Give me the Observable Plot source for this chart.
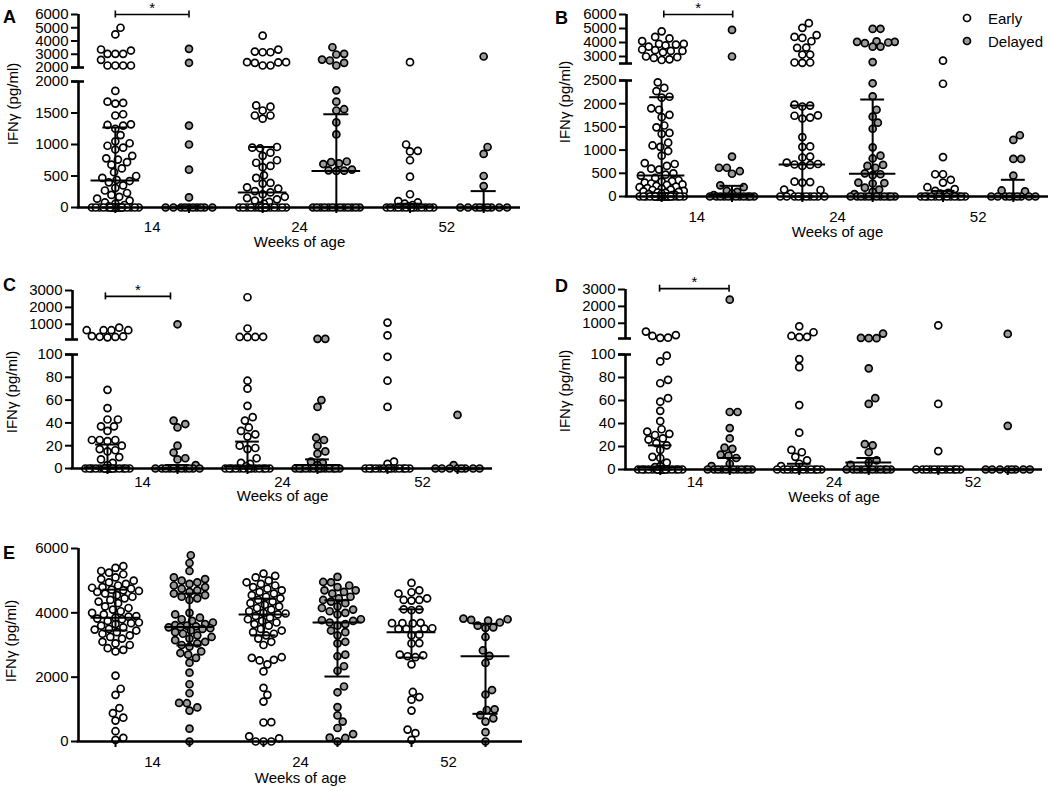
<!DOCTYPE html>
<html><head><meta charset="utf-8">
<script src="https://cdn.jsdelivr.net/npm/d3@7"></script>
<script src="https://cdn.jsdelivr.net/npm/@observablehq/plot@0.6"></script>
<style>
body{margin:0;background:#fff;font-family:"Liberation Sans",Arial,sans-serif;}
#fig{position:relative;width:1050px;height:791px;overflow:hidden;background:#fff;}
</style></head><body><div id="fig"></div>
<script>
// ---------- categories / tick labels ----------
const weeks = ["14", "24", "52"];
const groups = ["Early", "Delayed"];
const xTitle = "Weeks of age";
const yTitle = "IFNγ (pg/ml)";
const A_ticks_upper = [2000, 3000, 4000, 5000, 6000];
const A_ticks_lower = [0, 500, 1000, 1500, 2000];
const B_ticks_upper = [3000, 4000, 5000, 6000];
const B_ticks_lower = [0, 500, 1000, 1500, 2000, 2500];
const CD_ticks_upper = [1000, 2000, 3000];
const CD_ticks_lower = [0, 20, 40, 60, 80, 100];
const E_ticks = [0, 2000, 4000, 6000];

// ---------- Panel A ----------
const A_early_14 = [5000, 4500, 3360, 3280, 3030, 3030, 3030, 2580, 2150, 2150, 2150, 2150,
  1850, 1680, 1660, 1650, 1480, 1460, 1320, 1310, 1300, 1250, 1150, 1050, 1020, 980, 950, 920, 820, 780,
  760, 720, 680, 620, 560, 500, 470, 440, 420, 400, 350, 310, 270, 230, 200, 170, 140, 110, 80, 60, 40, 20,
  0,0,0,0,0, 0,0,0,0,0, 0,0,0,0,0, 0,0,0,0,0];
const A_delayed_14 = [3410, 2355, 1300, 1000, 600, 160, 0,0,0,0,0, 0,0,0,0,0];
const A_early_24 = [4400, 3350, 3200, 3150, 3150, 2400, 2400, 2380, 2350, 2150, 2150,
  1620, 1600, 1540, 1460, 1460, 1410, 960, 950, 940, 870, 820, 750, 710, 660, 640, 510, 470, 390, 380,
  320, 300, 260, 240, 210, 170, 150, 130, 110, 90, 60, 30,
  0,0,0,0,0, 0,0,0,0,0, 0,0,0,0,0, 0];
const A_delayed_24 = [3530, 3030, 2980, 2600, 2530, 2350, 2150, 1860, 1680, 1560, 1540, 1350, 1160,
  730, 720, 700, 690, 600, 590, 585, 580, 0,0,0,0,0, 0,0,0,0,0, 0,0,0];
const A_early_52 = [2400, 1000, 900, 890, 750, 490, 210, 100, 80, 60, 40, 20, 0,0,0,0,0, 0,0,0,0,0, 0,0,0,0];
const A_delayed_52 = [2830, 960, 850, 500, 340, 0,0,0,0,0, 0,0,0,0];
const A_median = [430, 0, 240, 580, 20, 0];
const A_q1 = [0, 0, 0, 0, 0, 0];
const A_q3 = [1270, 20, 960, 1480, 60, 260];

// ---------- Panel B ----------
const B_early_14 = [4800, 4400, 4300, 4100, 3900, 3900, 3850, 3800, 3700, 3500, 3450, 3400, 3400, 3300, 3000, 2950, 2900, 2800, 2750,
  2460, 2340, 2270, 2150, 2130, 1900, 1870, 1760, 1710, 1530, 1490, 1370, 1350, 1160, 1100, 1070, 980, 880,
  720, 700, 660, 600, 580, 500, 470, 450, 400, 350, 330, 320, 300, 280, 260, 250, 230, 210, 200, 180, 170,
  150, 140, 120, 110, 100, 90, 80, 60, 50, 40, 30, 20,
  0,0,0,0,0, 0,0,0,0,0, 0,0,0,0,0, 0,0,0,0,0, 0,0];
const B_delayed_14 = [4900, 3000, 860, 620, 620, 545, 490, 240, 200, 120, 100, 60, 30, 0,0,0,0,0, 0,0,0,0,0, 0,0];
const B_early_24 = [5380, 5050, 4530, 4400, 4330, 4090, 3640, 3620, 3140, 3140, 2570, 2570, 2550,
  1980, 1960, 1940, 1750, 1740, 1700, 1680, 1280, 1080, 1070, 860, 840, 730, 700, 690, 680, 660,
  320, 310, 300, 150, 140, 60, 0,0,0,0,0, 0,0,0,0,0];
const B_delayed_24 = [4980, 4970, 4080, 4050, 4050, 4000, 3950, 3710, 3700, 2600,
  2440, 2160, 1870, 1720, 1590, 1460, 1060, 880, 820, 680, 660, 620, 500, 480, 460, 300, 290, 280,
  190, 150, 100, 50, 0,0,0,0,0, 0,0,0,0,0, 0,0];
const B_early_52 = [2700, 2430, 850, 480, 480, 360, 300, 200, 160, 120, 80, 60, 40, 0,0,0,0,0, 0,0,0,0,0, 0,0,0];
const B_delayed_52 = [1320, 1220, 810, 810, 450, 130, 110, 0,0,0,0,0, 0,0,0,0];
const B_median = [450, 40, 690, 490, 20, 0];
const B_q1 = [0, 0, 0, 0, 0, 0];
const B_q3 = [2140, 230, 1960, 2090, 120, 360];

// ---------- Panel C ----------
const C_early_14 = [800, 650, 650, 650, 650, 300, 280, 260, 250, 230,
  69, 53, 43, 43, 37, 37, 33, 25, 25, 25, 24, 20, 17, 16, 15, 10, 8, 5, 3,
  0,0,0,0,0, 0,0,0,0,0, 0,0,0,0,0, 0,0,0];
const C_delayed_14 = [1000, 42, 39, 36, 20, 14, 9, 8, 3, 0,0,0,0,0, 0,0,0,0,0, 0];
const C_early_24 = [2600, 750, 260, 250, 250, 240, 77, 70, 55, 45, 42, 36, 33, 30, 28, 20, 18, 17, 9, 5, 4, 2,
  0,0,0,0,0, 0,0,0,0,0, 0,0,0,0];
const C_delayed_24 = [140, 140, 60, 54, 27, 25, 20, 15, 13, 6, 5, 3, 0,0,0,0,0, 0,0,0,0,0, 0,0,0,0];
const C_early_52 = [1100, 340, 98, 77, 54, 6, 4, 0,0,0,0,0, 0,0,0,0,0, 0,0,0,0];
const C_delayed_52 = [47, 3, 0,0,0,0,0, 0,0,0];
const C_median = [1, 0, 2, 3, 0, 0];
const C_q1 = [0, 0, 0, 0, 0, 0];
const C_q3 = [21, 3, 23.6, 8, 1, 0];

// ---------- Panel D ----------
const D_early_14 = [510, 300, 250, 150, 140, 99, 94, 78, 75, 62, 59, 51, 42, 35, 33, 31, 30, 27, 26, 23, 21, 17, 11, 10, 6, 3, 2,
  0,0,0,0,0, 0,0,0,0,0, 0,0,0,0,0, 0,0,0];
const D_delayed_14 = [2400, 50, 50, 36, 27, 19, 18, 13, 12, 10, 5, 3, 0,0,0,0,0, 0,0,0,0,0, 0,0];
const D_early_24 = [820, 470, 250, 200, 180, 96, 89, 56, 32, 17, 15, 11, 8, 5, 3, 0,0,0,0,0, 0,0,0,0,0, 0,0];
const D_delayed_24 = [390, 140, 120, 120, 88, 62, 57, 22, 21, 15, 8, 6, 4, 0,0,0,0,0, 0,0,0,0,0, 0,0];
const D_early_52 = [880, 57, 16, 0,0,0,0,0, 0,0,0,0,0, 0,0];
const D_delayed_52 = [370, 38, 0,0,0,0,0, 0,0,0];
const D_median = [2, 0, 0, 6, 0, 0];
const D_q1 = [0, 0, 0, 0, 0, 0];
const D_q3 = [21, 10, 5, 10, 0, 0];

// ---------- Panel E ----------
const E_early_14 = [5450, 5400, 5300, 5250, 5200, 5100, 5050, 5000, 4950, 4900, 4850, 4800, 4780, 4750, 4720, 4700,
  4680, 4650, 4600, 4550, 4500, 4450, 4400, 4350, 4300, 4200, 4150, 4100, 4050, 4000, 3950, 3900, 3880, 3850,
  3820, 3800, 3750, 3700, 3680, 3650, 3600, 3550, 3500, 3480, 3450, 3400, 3350, 3300, 3250, 3200, 3100, 3050,
  3000, 2900, 2850, 2800, 2050, 1640, 1450, 1040, 880, 740, 650, 320, 115, 50];
const E_delayed_14 = [5790, 5550, 5300, 5100, 5050, 5000, 4950, 4900, 4850, 4800, 4750, 4700, 4650, 4600, 4550, 4500,
  4450, 4400, 4000, 3950, 3850, 3800, 3750, 3700, 3650, 3620, 3600, 3580, 3560, 3550, 3520, 3500, 3450, 3400,
  3350, 3300, 3250, 3200, 3150, 3100, 3050, 3000, 2950, 2800, 2750, 2700, 2600, 2450, 2140, 1780, 1500, 1200,
  1190, 1060, 960, 400, 0];
const E_early_24 = [5220, 5150, 5100, 5000, 4950, 4900, 4850, 4800, 4750, 4700, 4650, 4600, 4550, 4500, 4450, 4400,
  4350, 4300, 4250, 4200, 4150, 4100, 4050, 4000, 3980, 3950, 3900, 3850, 3800, 3750, 3700, 3650, 3600, 3500,
  3450, 3400, 3350, 3300, 3200, 3100, 3000, 2620, 2600, 2540, 2520, 2400, 2180, 1670, 1450, 1240, 600, 590,
  160, 100, 0, 0, 0];
const E_delayed_24 = [5120, 4960, 4950, 4850, 4800, 4700, 4700, 4650, 4600, 4500, 4450, 4400, 4350, 4300, 4200, 4150,
  4100, 4050, 4000, 3950, 3800, 3770, 3750, 3700, 3650, 3600, 3450, 3400, 3300, 3100, 3050, 2700, 2650, 2340,
  2200, 1710, 1530, 1070, 810, 620, 420, 230, 120, 110, 0];
const E_early_52 = [4930, 4700, 4640, 4600, 4450, 4400, 4400, 4380, 4110, 4100, 4080, 3690, 3680, 3680, 3670, 3520,
  3510, 3500, 3500, 3320, 3300, 3060, 3050, 2700, 2680, 2650, 2620, 2400, 1540, 1380, 1300, 960, 370, 260, 50];
const E_delayed_52 = [3820, 3800, 3780, 3760, 3700, 3600, 3550, 3530, 3250, 2830, 2660, 2440, 1600, 1460, 1000, 980,
  820, 720, 620, 290, 0];
const E_median = [3850, 3560, 3950, 3700, 3400, 2650];
const E_q1 = [3450, 2990, 3300, 2020, 2610, 860];
const E_q3 = [4720, 4600, 4440, 4390, 4110, 3660];

// ---------- drawing ----------
const R = 3.5, GRAY = "#9c9c9c", FONT = '"Liberation Sans", Arial, sans-serif';
const fig = document.getElementById("fig");

// beeswarm offsets (pixels) for one group within one axis segment
function swarm(values, py, maxHalf) {
  const order = values.map((_, i) => i).sort((a, b) => values[a] - values[b]);
  const placed = [], out = new Array(values.length);
  const step = 1.3, cands = [0];
  for (let k = 1; k * step <= maxHalf; k++) cands.push(k * step, -k * step);
  const minD = 2 * R + 0.8;
  for (const i of order) {
    const y = py(values[i]);
    let best = 0, bestD = -1;
    for (const c of cands) {
      let md = Infinity;
      for (const q of placed) { const d = Math.hypot(q.x - c, q.y - y); if (d < md) md = d; }
      if (md >= minD) { best = c; bestD = md; break; }
      if (md > bestD + 0.3) { bestD = md; best = c; }
    }
    placed.push({x: best, y});
    out[i] = best;
  }
  return out;
}

function drawPanel(p) {
  const band = (p.right - p.left) / 6;
  const stats = p.median.map((m, i) => ({c: i + 0.5, med: m, q1: p.q1[i], q3: p.q3[i]}));
  p.segments.forEach((seg, si) => {
    const isBottom = si === p.segments.length - 1;
    const isTop = si === 0 && p.segments.length > 1;
    const [d0, d1] = seg.domain;
    const H = seg.bottom - seg.top;
    const mt = 16, mb = isBottom ? 52 : 8;
    const width = Math.min(1050, p.right + 6);
    const py = v => seg.bottom - (v - d0) / (d1 - d0) * H;
    const keep = isTop ? (v => v > d0) : (v => v <= d1);
    const early = [], delayed = [];
    p.series.forEach((vals, gi) => {
      const sub = vals.filter(keep);
      const offs = swarm(sub, py, 0.32 * band);
      sub.forEach((v, k) => (gi % 2 ? delayed : early).push({x: gi + 0.5 + offs[k] / band, v}));
    });
    const marks = [
      Plot.dot(early, {x: "x", y: "v", r: R, fill: "white", stroke: "black", strokeWidth: 1.7}),
      Plot.dot(delayed, {x: "x", y: "v", r: R, fill: GRAY, stroke: "black", strokeWidth: 1.7}),
      Plot.ruleX([0], {x: d => d, y1: () => d0, y2: () => d1, stroke: "black", strokeWidth: 2.6}),
      Plot.ruleY(seg.ticks, {y: d => d, x1: () => 0, x2: () => 0, insetLeft: -7, stroke: "black", strokeWidth: 2}),
      Plot.text(seg.ticks, {x: () => 0, y: d => d, text: d => String(d), textAnchor: "end", dx: -10, fontSize: 15, fill: "black"})
    ];
    if (seg.brk != null) {
      marks.push(Plot.ruleY([seg.brk], {y: d => d, x1: () => 0, x2: () => 0, insetLeft: -7, insetRight: -6, stroke: "black", strokeWidth: 2.6}));
    }
    if (isBottom) {
      marks.push(
        Plot.ruleY([0], {y: d => d, x1: () => 0, x2: () => 6, insetLeft: -1.3, stroke: "black", strokeWidth: 2.6}),
        Plot.ruleX(stats, {x: "c", y1: () => 0, y2: () => 0, insetBottom: -6, stroke: "black", strokeWidth: 2}),
        Plot.ruleX(stats, {x: "c", y1: "q1", y2: "q3", stroke: "black", strokeWidth: 2}),
        Plot.ruleY(stats, {y: "med", x1: d => d.c - 0.33, x2: d => d.c + 0.33, stroke: "black", strokeWidth: 2}),
        Plot.ruleY(stats, {y: "q1", x1: d => d.c - 0.17, x2: d => d.c + 0.17, stroke: "black", strokeWidth: 2}),
        Plot.ruleY(stats, {y: "q3", x1: d => d.c - 0.17, x2: d => d.c + 0.17, stroke: "black", strokeWidth: 2}),
        Plot.text(weeks, {x: (d, i) => 1 + 2 * i, y: () => 0, dy: p.labDy, fontSize: 15, fill: "black"}),
        Plot.text([xTitle], {frameAnchor: "bottom", dy: p.titleDy, fontSize: 15, fill: "black"})
      );
    }
    if (seg.bracket) {
      const b = seg.bracket;
      marks.push(
        Plot.ruleY([b], {y: d => d.y, x1: d => d.x1, x2: d => d.x2, stroke: "black", strokeWidth: 1.6}),
        Plot.ruleX([b.x1, b.x2], {x: d => d, y1: () => b.y, y2: () => b.y, insetTop: -3.5, insetBottom: -3.5, stroke: "black", strokeWidth: 1.6}),
        Plot.text([b], {x: d => (d.x1 + d.x2) / 2, y: d => d.y, text: () => "*", dy: -6, fontSize: 15, fill: "black"})
      );
    }
    const el = Plot.plot({
      width, height: H + mt + mb,
      marginLeft: p.left, marginRight: width - p.right, marginTop: mt, marginBottom: mb,
      x: {domain: [0, 6], axis: null},
      y: {domain: [d0, d1], axis: null},
      style: {background: "transparent", overflow: "visible", fontFamily: FONT, fontSize: "15px", color: "black"},
      marks
    });
    el.style.position = "absolute";
    el.style.left = "0px";
    el.style.top = (seg.top - mt) + "px";
    fig.appendChild(el);
  });
}

const panels = [
  {left: 78, right: 520, labDy: 20, titleDy: 39,
   series: [A_early_14, A_delayed_14, A_early_24, A_delayed_24, A_early_52, A_delayed_52],
   median: A_median, q1: A_q1, q3: A_q3,
   segments: [
     {domain: [2000, 6000], top: 14, bottom: 67, ticks: A_ticks_upper, brk: 2000, bracket: {x1: 0.5, x2: 1.5, y: 6000}},
     {domain: [0, 2000], top: 81, bottom: 207, ticks: A_ticks_lower, brk: 2000}]},
  {left: 626, right: 1048, labDy: 21, titleDy: 40,
   series: [B_early_14, B_delayed_14, B_early_24, B_delayed_24, B_early_52, B_delayed_52],
   median: B_median, q1: B_q1, q3: B_q3,
   segments: [
     {domain: [2500, 6000], top: 14, bottom: 63, ticks: B_ticks_upper, brk: 2500, bracket: {x1: 0.53, x2: 1.51, y: 6000}},
     {domain: [0, 2500], top: 80, bottom: 196, ticks: B_ticks_lower, brk: 2500}]},
  {left: 72, right: 492, labDy: 13.5, titleDy: 32.5,
   series: [C_early_14, C_delayed_14, C_early_24, C_delayed_24, C_early_52, C_delayed_52],
   median: C_median, q1: C_q1, q3: C_q3,
   segments: [
     {domain: [100, 3000], top: 290, bottom: 339, ticks: CD_ticks_upper, brk: 100, bracket: {x1: 0.47, x2: 1.4, y: 2650}},
     {domain: [0, 100], top: 354, bottom: 468, ticks: CD_ticks_lower, brk: 100}]},
  {left: 625, right: 1042, labDy: 13, titleDy: 32,
   series: [D_early_14, D_delayed_14, D_early_24, D_delayed_24, D_early_52, D_delayed_52],
   median: D_median, q1: D_q1, q3: D_q3,
   segments: [
     {domain: [100, 3000], top: 289, bottom: 338, ticks: CD_ticks_upper, brk: 100, bracket: {x1: 0.49, x2: 1.49, y: 3050}},
     {domain: [0, 100], top: 354, bottom: 469, ticks: CD_ticks_lower, brk: 100}]},
  {left: 78, right: 522, labDy: 21, titleDy: 41,
   series: [E_early_14, E_delayed_14, E_early_24, E_delayed_24, E_early_52, E_delayed_52],
   median: E_median, q1: E_q1, q3: E_q3,
   segments: [
     {domain: [0, 6000], top: 548, bottom: 741, ticks: E_ticks}]}
];
panels.forEach(drawPanel);

// ---------- overlay: panel letters, y titles, legend ----------
const NS = "http://www.w3.org/2000/svg";
const ov = document.createElementNS(NS, "svg");
ov.setAttribute("width", 1050); ov.setAttribute("height", 791);
ov.style.cssText = "position:absolute;left:0;top:0;pointer-events:none;font-family:" + FONT;
function addText(txt, x, y, attrs) {
  const t = document.createElementNS(NS, "text");
  t.setAttribute("x", x); t.setAttribute("y", y);
  for (const k in attrs) t.setAttribute(k, attrs[k]);
  t.textContent = txt; ov.appendChild(t); return t;
}
[["A", 3, 23], ["B", 555, 24], ["C", 3, 291], ["D", 555, 292], ["E", 3, 559]].forEach(([l, x, y]) =>
  addText(l, x, y, {"font-size": 18, "font-weight": "bold"}));
[[12, 104], [564, 102], [11, 392], [564, 391], [10, 641]].forEach(([x, y]) =>
  addText(yTitle, 0, 0, {"font-size": 15, "text-anchor": "middle", "dominant-baseline": "central",
    transform: `translate(${x},${y}) rotate(-90)`}));
groups.forEach((g, i) => {
  const c = document.createElementNS(NS, "circle");
  c.setAttribute("cx", 967); c.setAttribute("cy", 18 + 23 * i); c.setAttribute("r", R);
  c.setAttribute("fill", i ? GRAY : "white"); c.setAttribute("stroke", "black"); c.setAttribute("stroke-width", 1.7);
  ov.appendChild(c);
  addText(g, 988, 23.5 + 23 * i, {"font-size": 15});
});
fig.appendChild(ov);
</script></body></html>
